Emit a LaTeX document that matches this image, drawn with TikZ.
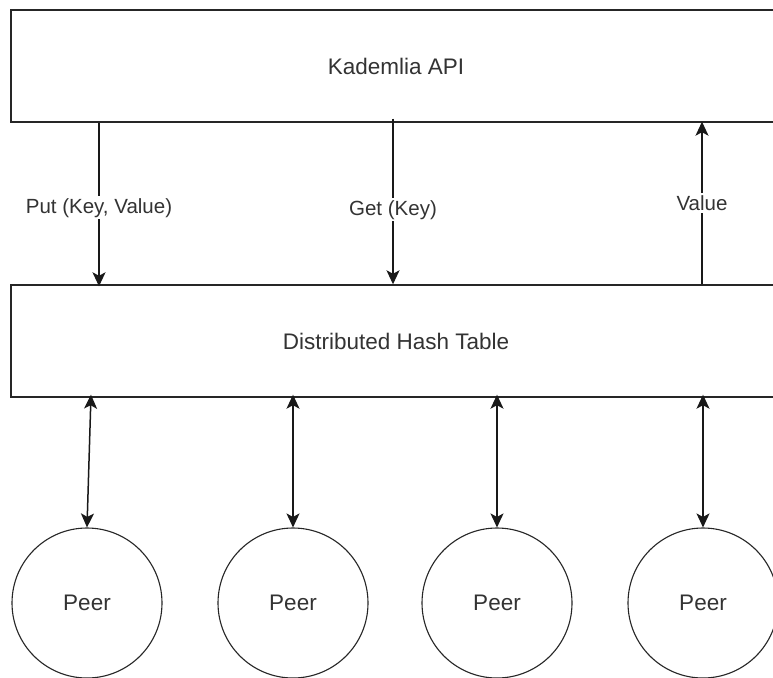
\documentclass[tikz,border=0pt]{standalone}
\usepackage{fontspec}
\setmainfont{Liberation Sans}
\usetikzlibrary{arrows.meta}
\begin{document}
\begin{tikzpicture}[x=1pt,y=-1pt,
  layer/.style={draw=black!85, line width=1.4pt, rectangle, minimum width=770pt,
    minimum height=112pt, inner sep=0pt, text=black!80,
    font=\fontsize{22.5}{25}\selectfont},
  peer/.style={draw=black!85, line width=1.1pt, circle, minimum size=150pt,
    inner sep=0pt, text=black!80, font=\fontsize{22.5}{25}\selectfont},
  flow/.style={draw=black!90, line width=1.5pt, -{Stealth[length=14pt,width=13pt,inset=3.5pt]}},
  twoway/.style={draw=black!90, line width=1.5pt,
    {Stealth[length=14pt,width=13pt,inset=3.5pt]}-{Stealth[length=14pt,width=13pt,inset=3.5pt]}},
  lbl/.style={fill=white, inner sep=2pt, text=black!80,
    font=\fontsize{20.5}{23}\selectfont}
]
\useasboundingbox (0,0) rectangle (773,677);
\clip (0,0) rectangle (773,677);
\fill[white] (0,0) rectangle (773,677);

% layers
\node[layer] (api) at (396,66) {Kademlia API};
\node[layer] (dht) at (396,341) {Distributed Hash Table};

% peers
\node[peer] (p1) at (87,603) {Peer};
\node[peer] (p2) at (293,603) {Peer};
\node[peer] (p3) at (497,603) {Peer};
\node[peer] (p4) at (703,603) {Peer};

% API <-> DHT
\draw[flow] (api.south -| 99,0) -- ([yshift=-2pt]dht.north -| 99,0)
  node[lbl, pos=0.52] (lput) {Put (Key, Value)};
\coordinate (gtop) at ([yshift=4pt]api.south -| 393,0);
\draw[flow] (gtop) -- (dht.north -| 393,0)
  node[lbl, pos=0.55] (lget) {Get (Key)};
\draw[flow] (dht.north -| 702,0) -- ([yshift=1pt]api.south -| 702,0)
  node[lbl, pos=0.5] (lval) {Value};

% DHT <-> peers
\coordinate (d1) at ([yshift=3pt]dht.south -| 91,0);
\draw[twoway] (d1) -- (p1.north);
\draw[twoway] ([yshift=3pt]dht.south -| p2.north) -- (p2.north);
\draw[twoway] ([yshift=3pt]dht.south -| p3.north) -- (p3.north);
\draw[twoway] ([yshift=3pt]dht.south -| p4.north) -- (p4.north);
\end{tikzpicture}
\end{document}
